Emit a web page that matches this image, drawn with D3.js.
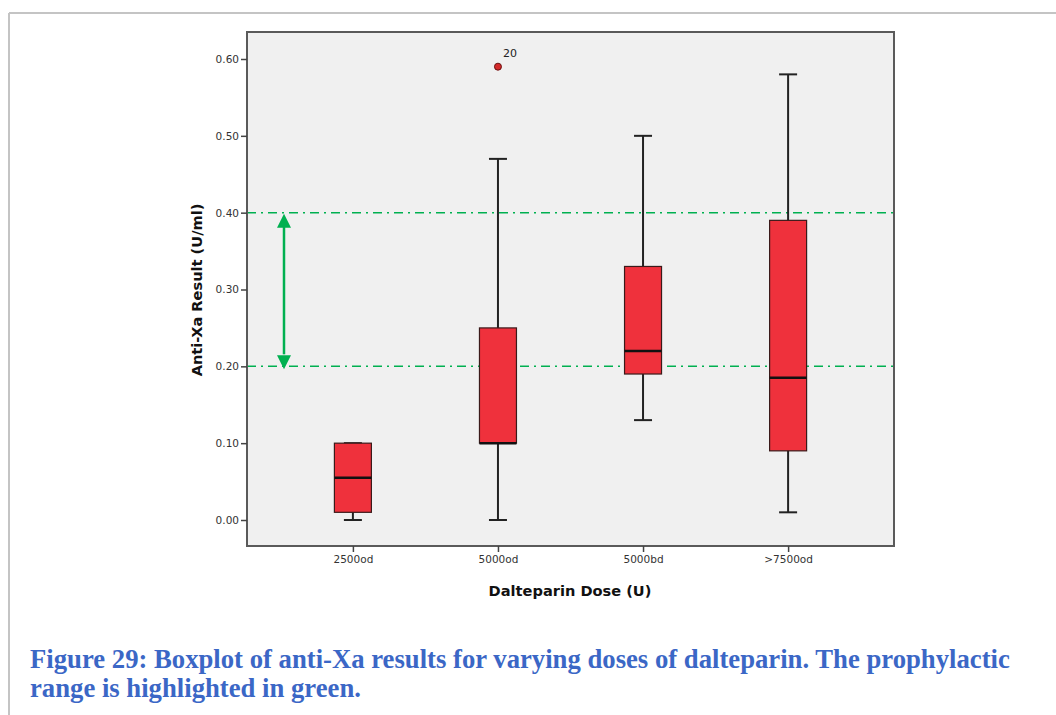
<!DOCTYPE html>
<html>
<head>
<meta charset="utf-8">
<script src="https://cdn.jsdelivr.net/npm/d3@7.9.0/dist/d3.min.js"></script>
<style>
  body { margin: 0; background: #fff; }
  svg { display: block; }
</style>
</head>
<body>
<svg id="chart" width="1056" height="715"></svg>
<script>
// doses on the x axis
const doses = ["2500od", "5000od", "5000bd", ">7500od"];
// five number summaries
const whiskerLow = [0.00, 0.00, 0.13, 0.01];
const q1 = [0.01, 0.10, 0.19, 0.09];
const medians = [0.055, 0.10, 0.22, 0.185];
const q3 = [0.10, 0.25, 0.33, 0.39];
const whiskerHigh = [0.10, 0.47, 0.50, 0.58];
// outliers
const outlierDose = ["5000od"];
const outlierValue = [0.59];
const outlierLabel = ["20"];
// prophylactic range
const rangeLow = 0.20;
const rangeHigh = 0.40;
const yTicks = [0, 0.1, 0.2, 0.3, 0.4, 0.5, 0.6];

const svg = d3.select("#chart");

// page frame
svg.append("line").attr("x1", 9).attr("x2", 1056).attr("y1", 13).attr("y2", 13)
  .attr("stroke", "#c4c4c4").attr("stroke-width", 2);
svg.append("line").attr("x1", 9).attr("x2", 9).attr("y1", 13).attr("y2", 715)
  .attr("stroke", "#c4c4c4").attr("stroke-width", 2);

const plotL = 247, plotR = 894, plotT = 32, plotB = 546;

const y = d3.scaleLinear().domain([0, 0.6]).range([520, 59]);
const x = d3.scalePoint().domain(doses).range([plotL, plotR]).padding(0.73);

svg.append("rect")
  .attr("x", plotL).attr("y", plotT)
  .attr("width", plotR - plotL).attr("height", plotB - plotT)
  .attr("fill", "#f0f0f0");

// green reference lines
const green = "#00b050";
[rangeLow, rangeHigh].forEach(v => {
  svg.append("line")
    .attr("x1", plotL).attr("x2", 897)
    .attr("y1", y(v)).attr("y2", y(v))
    .attr("stroke", green).attr("stroke-width", 1.5)
    .attr("stroke-dasharray", "9,5,2,5");
});

// boxes
const data = doses.map((d, i) => ({
  dose: d, lo: whiskerLow[i], q1: q1[i], med: medians[i], q3: q3[i], hi: whiskerHigh[i]
}));
const boxW = 37, capW = 18;
const g = svg.selectAll("g.box").data(data).join("g").attr("class", "box");

g.append("line")
  .attr("x1", d => x(d.dose)).attr("x2", d => x(d.dose))
  .attr("y1", d => y(d.lo)).attr("y2", d => y(d.hi))
  .attr("stroke", "#222").attr("stroke-width", 2);
g.append("line")
  .attr("x1", d => x(d.dose) - capW / 2).attr("x2", d => x(d.dose) + capW / 2)
  .attr("y1", d => y(d.lo)).attr("y2", d => y(d.lo))
  .attr("stroke", "#222").attr("stroke-width", 2);
g.append("line")
  .attr("x1", d => x(d.dose) - capW / 2).attr("x2", d => x(d.dose) + capW / 2)
  .attr("y1", d => y(d.hi)).attr("y2", d => y(d.hi))
  .attr("stroke", "#222").attr("stroke-width", 2);
g.append("rect")
  .attr("x", d => x(d.dose) - boxW / 2).attr("width", boxW)
  .attr("y", d => y(d.q3)).attr("height", d => y(d.q1) - y(d.q3))
  .attr("fill", "#ef313c").attr("stroke", "#3a1a1a").attr("stroke-width", 1.2);
g.append("line")
  .attr("x1", d => x(d.dose) - boxW / 2).attr("x2", d => x(d.dose) + boxW / 2)
  .attr("y1", d => y(d.med)).attr("y2", d => y(d.med))
  .attr("stroke", "#111").attr("stroke-width", 2.5);

// outliers
outlierDose.forEach((d, i) => {
  svg.append("circle")
    .attr("cx", x(d)).attr("cy", y(outlierValue[i])).attr("r", 3.5)
    .attr("fill", "#d42a2a").attr("stroke", "#6a1010").attr("stroke-width", 1);
  svg.append("text")
    .attr("x", x(d) + 5).attr("y", y(outlierValue[i]) - 10)
    .attr("font-family", "DejaVu Sans, sans-serif").attr("font-size", 11)
    .attr("fill", "#222").text(outlierLabel[i]);
});

// arrow showing the prophylactic range
const ax = 284;
svg.append("line")
  .attr("x1", ax).attr("x2", ax)
  .attr("y1", y(rangeHigh) + 12).attr("y2", y(rangeLow) - 12)
  .attr("stroke", green).attr("stroke-width", 2.5);
svg.append("path")
  .attr("d", `M${ax},${y(rangeHigh) + 1}L${ax - 7},${y(rangeHigh) + 15}L${ax + 7},${y(rangeHigh) + 15}Z`)
  .attr("fill", green);
svg.append("path")
  .attr("d", `M${ax},${y(rangeLow) + 3}L${ax - 7},${y(rangeLow) - 11}L${ax + 7},${y(rangeLow) - 11}Z`)
  .attr("fill", green);

// plot frame
svg.append("rect")
  .attr("x", plotL).attr("y", plotT)
  .attr("width", plotR - plotL).attr("height", plotB - plotT)
  .attr("fill", "none").attr("stroke", "#5a5a5a").attr("stroke-width", 2);

// axes
const yAxis = svg.append("g").attr("transform", `translate(${plotL},0)`)
  .call(d3.axisLeft(y).tickValues(yTicks).tickFormat(d3.format(".2f")).tickSize(6).tickPadding(2));
const xAxis = svg.append("g").attr("transform", `translate(0,${plotB})`)
  .call(d3.axisBottom(x).tickSize(6).tickPadding(4));
[yAxis, xAxis].forEach(a => {
  a.select(".domain").remove();
  a.selectAll(".tick line").attr("stroke", "#444").attr("stroke-width", 1.5);
  a.selectAll(".tick text").attr("font-family", "DejaVu Sans, sans-serif")
    .attr("font-size", 10.5).attr("fill", "#333");
});

svg.append("text")
  .attr("transform", `translate(202,290) rotate(-90)`)
  .attr("text-anchor", "middle")
  .attr("font-family", "DejaVu Sans, sans-serif").attr("font-weight", "bold")
  .attr("font-size", 14.6).attr("fill", "#111")
  .text("Anti-Xa Result (U/ml)");
svg.append("text")
  .attr("x", 570).attr("y", 596)
  .attr("text-anchor", "middle")
  .attr("font-family", "DejaVu Sans, sans-serif").attr("font-weight", "bold")
  .attr("font-size", 14.6).attr("fill", "#111")
  .text("Dalteparin Dose (U)");

// caption
const captionLines = [
  "Figure 29: Boxplot of anti-Xa results for varying doses of dalteparin. The prophylactic",
  "range is highlighted in green."
];
svg.selectAll("text.caption").data(captionLines).join("text")
  .attr("class", "caption")
  .attr("x", 30).attr("y", (d, i) => 668 + i * 29)
  .attr("font-family", "Liberation Serif, Times New Roman, serif")
  .attr("font-weight", "bold").attr("font-size", 26.7)
  .attr("fill", "#3b67c6")
  .text(d => d);
</script>
</body>
</html>
